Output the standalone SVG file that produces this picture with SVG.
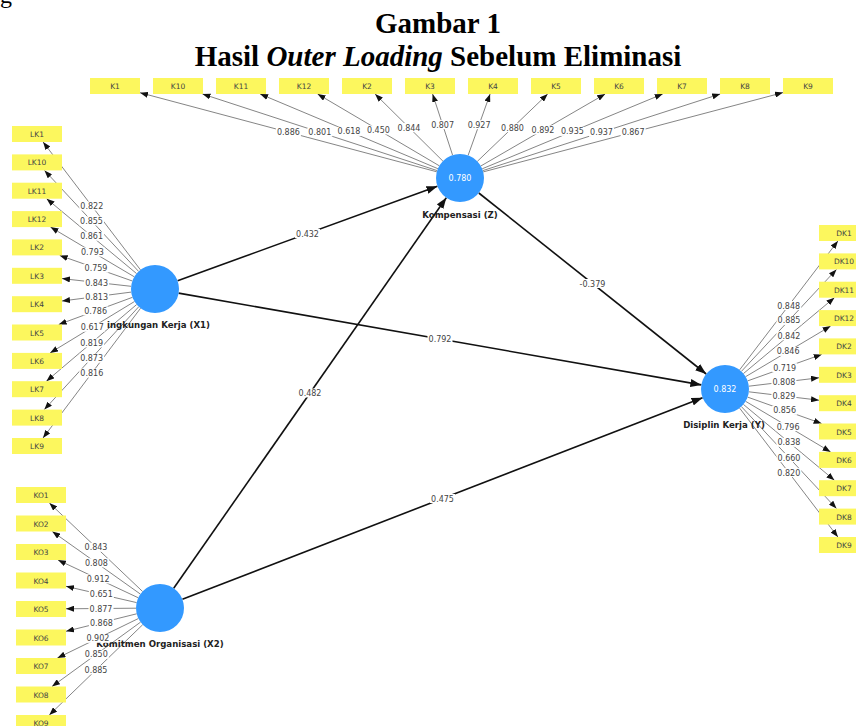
<svg xmlns="http://www.w3.org/2000/svg" width="856" height="726" viewBox="0 0 856 726">
<defs>
<marker id="a" markerUnits="userSpaceOnUse" markerWidth="8" markerHeight="6" refX="8" refY="3" orient="auto"><path d="M0,0 L8,3 L0,6 z" fill="#111"/></marker>
<marker id="b" markerUnits="userSpaceOnUse" markerWidth="11" markerHeight="8" refX="11" refY="4" orient="auto"><path d="M0,0 L11,4 L0,8 z" fill="#111"/></marker>
</defs>
<style>
.title{font-family:"Liberation Serif",serif;font-weight:bold;font-size:29px;fill:#000;text-anchor:middle}
.box{fill:#FCF75E}
.ind{font-family:"DejaVu Sans",sans-serif;font-size:7.5px;fill:#444;text-anchor:middle}
.lv{fill:#3399FF}
.lvv{font-family:"DejaVu Sans",sans-serif;font-size:8px;fill:#fff;text-anchor:middle}
.lvn{font-family:"DejaVu Sans",sans-serif;font-weight:bold;font-size:8.6px;fill:#222}
.ld{stroke:#666;stroke-width:0.8;fill:none;marker-end:url(#a)}
.pth{stroke:#111;stroke-width:1.6;fill:none;marker-end:url(#b)}
.bg{fill:#fff}
.lb{font-family:"DejaVu Sans",sans-serif;font-size:8px;fill:#444;text-anchor:middle}
</style>
<rect width="856" height="726" fill="#fff"/>
<text x="0" y="3" font-family="Liberation Serif, serif" font-size="24" fill="#000">g</text>
<text class="title" x="438" y="33">Gambar 1</text>
<text class="title" x="438" y="66">Hasil <tspan font-style="italic">Outer Loading</tspan> Sebelum Eliminasi</text>

<g id="connectors">
<line class="ld" x1="436.8" y1="171.8" x2="140" y2="92.7"/>
<line class="ld" x1="437.2" y1="170.6" x2="202.5" y2="94"/>
<line class="ld" x1="437.9" y1="168.7" x2="260.1" y2="94"/>
<line class="ld" x1="439.3" y1="165.8" x2="317.6" y2="94"/>
<line class="ld" x1="442.9" y1="161.1" x2="375.1" y2="94"/>
<line class="ld" x1="452.6" y1="155.2" x2="432.6" y2="94"/>
<line class="ld" x1="468.1" y1="155.4" x2="490.1" y2="94"/>
<line class="ld" x1="477.3" y1="161.4" x2="547.7" y2="94"/>
<line class="ld" x1="480.8" y1="166" x2="605.2" y2="94"/>
<line class="ld" x1="482.2" y1="168.8" x2="662.7" y2="94"/>
<line class="ld" x1="482.8" y1="170.6" x2="720.2" y2="94"/>
<line class="ld" x1="483.2" y1="171.9" x2="783" y2="92.6"/>

<line class="ld" x1="140.5" y1="269.9" x2="43.1" y2="142"/>
<line class="ld" x1="138.6" y1="271.4" x2="44.5" y2="170.4"/>
<line class="ld" x1="136.6" y1="273.6" x2="46.6" y2="198.7"/>
<line class="ld" x1="134.3" y1="276.8" x2="50.5" y2="227.1"/>
<line class="ld" x1="132.4" y1="281" x2="59.7" y2="255.4"/>
<line class="ld" x1="131.1" y1="286.3" x2="62" y2="278.6"/>
<line class="ld" x1="131.2" y1="292.1" x2="62" y2="301"/>
<line class="ld" x1="132.5" y1="297.3" x2="58.7" y2="324.5"/>
<line class="ld" x1="134.5" y1="301.5" x2="50.1" y2="352.9"/>
<line class="ld" x1="136.7" y1="304.5" x2="46.4" y2="381.2"/>
<line class="ld" x1="138.8" y1="306.7" x2="44.3" y2="409.6"/>
<line class="ld" x1="140.6" y1="308.2" x2="43" y2="438"/>

<line class="ld" x1="142.6" y1="591.5" x2="49.4" y2="503"/>
<line class="ld" x1="140.4" y1="594.1" x2="52.3" y2="531.5"/>
<line class="ld" x1="138.3" y1="597.8" x2="58" y2="560"/>
<line class="ld" x1="136.6" y1="602.6" x2="66" y2="586.3"/>
<line class="ld" x1="136" y1="608.2" x2="66" y2="608.8"/>
<line class="ld" x1="136.7" y1="613.8" x2="66" y2="631.3"/>
<line class="ld" x1="138.4" y1="618.5" x2="57.4" y2="658"/>
<line class="ld" x1="140.6" y1="622.1" x2="52" y2="686.5"/>
<line class="ld" x1="142.7" y1="624.7" x2="49.3" y2="715"/>

<line class="ld" x1="739.6" y1="369.9" x2="837.9" y2="241"/>
<line class="ld" x1="741.4" y1="371.4" x2="836.5" y2="269.4"/>
<line class="ld" x1="743.4" y1="373.6" x2="834.4" y2="297.7"/>
<line class="ld" x1="745.6" y1="376.7" x2="830.6" y2="326.1"/>
<line class="ld" x1="747.6" y1="380.9" x2="821.7" y2="354.4"/>
<line class="ld" x1="748.8" y1="386.2" x2="819" y2="377.8"/>
<line class="ld" x1="748.8" y1="391.8" x2="819" y2="400.2"/>
<line class="ld" x1="747.6" y1="397.1" x2="821.6" y2="423.5"/>
<line class="ld" x1="745.6" y1="401.3" x2="830.6" y2="451.9"/>
<line class="ld" x1="743.4" y1="404.4" x2="834.4" y2="480.2"/>
<line class="ld" x1="741.4" y1="406.6" x2="836.5" y2="508.6"/>
<line class="ld" x1="739.6" y1="408.1" x2="837.9" y2="537"/>

<line class="pth" x1="177.6" y1="280.8" x2="437.4" y2="186.2"/>
<line class="pth" x1="178.6" y1="293.1" x2="701.4" y2="384.9"/>
<line class="pth" x1="173.7" y1="588.3" x2="446.3" y2="197.7"/>
<line class="pth" x1="182.4" y1="599.3" x2="702.6" y2="397.7"/>
<line class="pth" x1="478.8" y1="193" x2="706.2" y2="374"/>
</g>

<g id="K1"><rect class="box" x="90" y="78" width="50" height="16"/><text class="ind" x="115" y="89">K1</text></g>
<g id="K10"><rect class="box" x="153" y="78" width="50" height="16"/><text class="ind" x="178" y="89">K10</text></g>
<g id="K11"><rect class="box" x="216" y="78" width="50" height="16"/><text class="ind" x="241" y="89">K11</text></g>
<g id="K12"><rect class="box" x="279" y="78" width="50" height="16"/><text class="ind" x="304" y="89">K12</text></g>
<g id="K2"><rect class="box" x="342" y="78" width="50" height="16"/><text class="ind" x="367" y="89">K2</text></g>
<g id="K3"><rect class="box" x="405" y="78" width="50" height="16"/><text class="ind" x="430" y="89">K3</text></g>
<g id="K4"><rect class="box" x="468" y="78" width="50" height="16"/><text class="ind" x="493" y="89">K4</text></g>
<g id="K5"><rect class="box" x="531" y="78" width="50" height="16"/><text class="ind" x="556" y="89">K5</text></g>
<g id="K6"><rect class="box" x="594" y="78" width="50" height="16"/><text class="ind" x="619" y="89">K6</text></g>
<g id="K7"><rect class="box" x="657" y="78" width="50" height="16"/><text class="ind" x="682" y="89">K7</text></g>
<g id="K8"><rect class="box" x="720" y="78" width="50" height="16"/><text class="ind" x="745" y="89">K8</text></g>
<g id="K9"><rect class="box" x="783" y="78" width="50" height="16"/><text class="ind" x="808" y="89">K9</text></g>

<g id="LK1"><rect class="box" x="12" y="126" width="50" height="16"/><text class="ind" x="37" y="137">LK1</text></g>
<g id="LK10"><rect class="box" x="12" y="154.4" width="50" height="16"/><text class="ind" x="37" y="165.4">LK10</text></g>
<g id="LK11"><rect class="box" x="12" y="182.7" width="50" height="16"/><text class="ind" x="37" y="193.7">LK11</text></g>
<g id="LK12"><rect class="box" x="12" y="211.1" width="50" height="16"/><text class="ind" x="37" y="222.1">LK12</text></g>
<g id="LK2"><rect class="box" x="12" y="239.4" width="50" height="16"/><text class="ind" x="37" y="250.4">LK2</text></g>
<g id="LK3"><rect class="box" x="12" y="267.8" width="50" height="16"/><text class="ind" x="37" y="278.8">LK3</text></g>
<g id="LK4"><rect class="box" x="12" y="296.2" width="50" height="16"/><text class="ind" x="37" y="307.2">LK4</text></g>
<g id="LK5"><rect class="box" x="12" y="324.5" width="50" height="16"/><text class="ind" x="37" y="335.5">LK5</text></g>
<g id="LK6"><rect class="box" x="12" y="352.9" width="50" height="16"/><text class="ind" x="37" y="363.9">LK6</text></g>
<g id="LK7"><rect class="box" x="12" y="381.2" width="50" height="16"/><text class="ind" x="37" y="392.2">LK7</text></g>
<g id="LK8"><rect class="box" x="12" y="409.6" width="50" height="16"/><text class="ind" x="37" y="420.6">LK8</text></g>
<g id="LK9"><rect class="box" x="12" y="438" width="50" height="16"/><text class="ind" x="37" y="449">LK9</text></g>

<g id="KO1"><rect class="box" x="16" y="487" width="50" height="16"/><text class="ind" x="41" y="498">KO1</text></g>
<g id="KO2"><rect class="box" x="16" y="515.5" width="50" height="16"/><text class="ind" x="41" y="526.5">KO2</text></g>
<g id="KO3"><rect class="box" x="16" y="544" width="50" height="16"/><text class="ind" x="41" y="555">KO3</text></g>
<g id="KO4"><rect class="box" x="16" y="572.5" width="50" height="16"/><text class="ind" x="41" y="583.5">KO4</text></g>
<g id="KO5"><rect class="box" x="16" y="601" width="50" height="16"/><text class="ind" x="41" y="612">KO5</text></g>
<g id="KO6"><rect class="box" x="16" y="629.5" width="50" height="16"/><text class="ind" x="41" y="640.5">KO6</text></g>
<g id="KO7"><rect class="box" x="16" y="658" width="50" height="16"/><text class="ind" x="41" y="669">KO7</text></g>
<g id="KO8"><rect class="box" x="16" y="686.5" width="50" height="16"/><text class="ind" x="41" y="697.5">KO8</text></g>
<g id="KO9"><rect class="box" x="16" y="715" width="50" height="16"/><text class="ind" x="41" y="726">KO9</text></g>

<g id="DK1"><rect class="box" x="819" y="225" width="50" height="16"/><text class="ind" x="844" y="236">DK1</text></g>
<g id="DK10"><rect class="box" x="819" y="253.4" width="50" height="16"/><text class="ind" x="844" y="264.4">DK10</text></g>
<g id="DK11"><rect class="box" x="819" y="281.7" width="50" height="16"/><text class="ind" x="844" y="292.7">DK11</text></g>
<g id="DK12"><rect class="box" x="819" y="310.1" width="50" height="16"/><text class="ind" x="844" y="321.1">DK12</text></g>
<g id="DK2"><rect class="box" x="819" y="338.4" width="50" height="16"/><text class="ind" x="844" y="349.4">DK2</text></g>
<g id="DK3"><rect class="box" x="819" y="366.8" width="50" height="16"/><text class="ind" x="844" y="377.8">DK3</text></g>
<g id="DK4"><rect class="box" x="819" y="395.2" width="50" height="16"/><text class="ind" x="844" y="406.2">DK4</text></g>
<g id="DK5"><rect class="box" x="819" y="423.5" width="50" height="16"/><text class="ind" x="844" y="434.5">DK5</text></g>
<g id="DK6"><rect class="box" x="819" y="451.9" width="50" height="16"/><text class="ind" x="844" y="462.9">DK6</text></g>
<g id="DK7"><rect class="box" x="819" y="480.2" width="50" height="16"/><text class="ind" x="844" y="491.2">DK7</text></g>
<g id="DK8"><rect class="box" x="819" y="508.6" width="50" height="16"/><text class="ind" x="844" y="519.6">DK8</text></g>
<g id="DK9"><rect class="box" x="819" y="537" width="50" height="16"/><text class="ind" x="844" y="548">DK9</text></g>

<g id="Z"><circle class="lv" cx="460" cy="178" r="24"/><text class="lvv" x="460" y="181">0.780</text><text class="lvn" x="460" y="218" text-anchor="middle">Kompensasi (Z)</text></g>
<g id="X1"><circle class="lv" cx="155" cy="289" r="24"/><text class="lvn" x="107" y="328">ingkungan Kerja (X1)</text></g>
<g id="X2"><circle class="lv" cx="160" cy="608" r="24"/><text class="lvn" x="160" y="647" text-anchor="middle">Komitmen Organisasi (X2)</text></g>
<g id="Y"><circle class="lv" cx="725" cy="389" r="24"/><text class="lvv" x="725" y="392">0.832</text><text class="lvn" x="724" y="428" text-anchor="middle">Disiplin Kerja (Y)</text></g>

<g id="connector-labels">
<rect class="bg" x="275.9" y="127.7" width="25" height="9"/><text class="lb" x="288.4" y="135.2">0.886</text>
<rect class="bg" x="307.3" y="127.8" width="25" height="9"/><text class="lb" x="319.8" y="135.3">0.801</text>
<rect class="bg" x="336.5" y="126.9" width="25" height="9"/><text class="lb" x="349" y="134.4">0.618</text>
<rect class="bg" x="365.9" y="125.4" width="25" height="9"/><text class="lb" x="378.4" y="132.9">0.450</text>
<rect class="bg" x="396.5" y="123.1" width="25" height="9"/><text class="lb" x="409" y="130.6">0.844</text>
<rect class="bg" x="430.1" y="120.1" width="25" height="9"/><text class="lb" x="442.6" y="127.6">0.807</text>
<rect class="bg" x="466.6" y="120.2" width="25" height="9"/><text class="lb" x="479.1" y="127.7">0.927</text>
<rect class="bg" x="500" y="123.2" width="25" height="9"/><text class="lb" x="512.5" y="130.7">0.880</text>
<rect class="bg" x="530.5" y="125.5" width="25" height="9"/><text class="lb" x="543" y="133">0.892</text>
<rect class="bg" x="559.9" y="126.9" width="25" height="9"/><text class="lb" x="572.4" y="134.4">0.935</text>
<rect class="bg" x="589" y="127.8" width="25" height="9"/><text class="lb" x="601.5" y="135.3">0.937</text>
<rect class="bg" x="620.6" y="127.8" width="25" height="9"/><text class="lb" x="633.1" y="135.3">0.867</text>

<rect class="bg" x="79.3" y="201.5" width="25" height="9"/><text class="lb" x="91.8" y="209">0.822</text>
<rect class="bg" x="79" y="216.4" width="25" height="9"/><text class="lb" x="91.5" y="223.9">0.855</text>
<rect class="bg" x="79.1" y="231.7" width="25" height="9"/><text class="lb" x="91.6" y="239.2">0.861</text>
<rect class="bg" x="79.9" y="247.5" width="25" height="9"/><text class="lb" x="92.4" y="255">0.793</text>
<rect class="bg" x="83.5" y="263.7" width="25" height="9"/><text class="lb" x="96" y="271.2">0.759</text>
<rect class="bg" x="84.1" y="278" width="25" height="9"/><text class="lb" x="96.6" y="285.5">0.843</text>
<rect class="bg" x="84.1" y="292" width="25" height="9"/><text class="lb" x="96.6" y="299.5">0.813</text>
<rect class="bg" x="83.1" y="306.4" width="25" height="9"/><text class="lb" x="95.6" y="313.9">0.786</text>
<rect class="bg" x="79.8" y="322.7" width="25" height="9"/><text class="lb" x="92.3" y="330.2">0.617</text>
<rect class="bg" x="79.1" y="338.4" width="25" height="9"/><text class="lb" x="91.6" y="345.9">0.819</text>
<rect class="bg" x="79.1" y="353.7" width="25" height="9"/><text class="lb" x="91.6" y="361.2">0.873</text>
<rect class="bg" x="79.3" y="368.6" width="25" height="9"/><text class="lb" x="91.8" y="376.1">0.816</text>

<rect class="bg" x="83.5" y="542.8" width="25" height="9"/><text class="lb" x="96" y="550.3">0.843</text>
<rect class="bg" x="83.9" y="558.3" width="25" height="9"/><text class="lb" x="96.4" y="565.8">0.808</text>
<rect class="bg" x="85.7" y="574.4" width="25" height="9"/><text class="lb" x="98.2" y="581.9">0.912</text>
<rect class="bg" x="88.8" y="589.9" width="25" height="9"/><text class="lb" x="101.3" y="597.4">0.651</text>
<rect class="bg" x="88.5" y="604" width="25" height="9"/><text class="lb" x="101" y="611.5">0.877</text>
<rect class="bg" x="88.9" y="618.1" width="25" height="9"/><text class="lb" x="101.4" y="625.6">0.868</text>
<rect class="bg" x="85.4" y="633.8" width="25" height="9"/><text class="lb" x="97.9" y="641.3">0.902</text>
<rect class="bg" x="83.8" y="649.8" width="25" height="9"/><text class="lb" x="96.3" y="657.3">0.850</text>
<rect class="bg" x="83.5" y="665.4" width="25" height="9"/><text class="lb" x="96" y="672.9">0.885</text>

<rect class="bg" x="776.2" y="301" width="25" height="9"/><text class="lb" x="788.7" y="308.5">0.848</text>
<rect class="bg" x="776.5" y="315.9" width="25" height="9"/><text class="lb" x="789" y="323.4">0.885</text>
<rect class="bg" x="776.4" y="331.2" width="25" height="9"/><text class="lb" x="788.9" y="338.7">0.842</text>
<rect class="bg" x="775.6" y="346.9" width="25" height="9"/><text class="lb" x="788.1" y="354.4">0.846</text>
<rect class="bg" x="772.2" y="363.2" width="25" height="9"/><text class="lb" x="784.7" y="370.7">0.719</text>
<rect class="bg" x="771.4" y="377.5" width="25" height="9"/><text class="lb" x="783.9" y="385">0.808</text>
<rect class="bg" x="771.4" y="391.5" width="25" height="9"/><text class="lb" x="783.9" y="399">0.829</text>
<rect class="bg" x="772.1" y="405.8" width="25" height="9"/><text class="lb" x="784.6" y="413.3">0.856</text>
<rect class="bg" x="775.6" y="422.1" width="25" height="9"/><text class="lb" x="788.1" y="429.6">0.796</text>
<rect class="bg" x="776.4" y="437.8" width="25" height="9"/><text class="lb" x="788.9" y="445.3">0.838</text>
<rect class="bg" x="776.5" y="453.1" width="25" height="9"/><text class="lb" x="789" y="460.6">0.660</text>
<rect class="bg" x="776.3" y="468.1" width="25" height="9"/><text class="lb" x="788.8" y="475.6">0.820</text>

<rect class="bg" x="295" y="229" width="25" height="9"/><text class="lb" x="307.5" y="236.5">0.432</text>
<rect class="bg" x="427.5" y="334.5" width="25" height="9"/><text class="lb" x="440" y="342">0.792</text>
<rect class="bg" x="297.5" y="388.5" width="25" height="9"/><text class="lb" x="310" y="396">0.482</text>
<rect class="bg" x="430" y="494" width="25" height="9"/><text class="lb" x="442.5" y="501.5">0.475</text>
<rect class="bg" x="578.5" y="279" width="28" height="9"/><text class="lb" x="592.5" y="286.5">-0.379</text>
</g>
</svg>
